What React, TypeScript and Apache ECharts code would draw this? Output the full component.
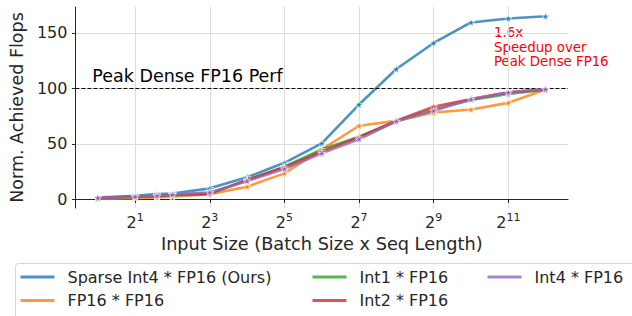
import React, { useEffect, useRef } from "react";
import * as echarts from "echarts";

const inputSizes = [1, 2, 3, 4, 8, 16, 32, 64, 128, 256, 512, 1024, 2048, 4096];
const sparseInt4 = [1.8, 3.3, 4.8, 5.4, 10, 20, 33, 50.5, 85.5, 117.5, 141, 159.5, 163, 165];
const fp16 = [0.5, 1.2, 1.8, 2.5, 4.8, 11.5, 23.5, 45, 66.4, 70.8, 78.3, 81, 87, 99];
const int1 = [1.2, 2.2, 3, 3.8, 4.8, 17.5, 29.5, 45, 56.5, 70.5, 81, 89.6, 95, 98.8];
const int2 = [1.4, 2.4, 3.2, 4.2, 5.5, 17.5, 29, 43, 56, 71, 83.5, 90.5, 96.5, 99.2];
const int4 = [1.5, 2.5, 3.3, 4.5, 6.5, 16.5, 27.5, 41.5, 54.2, 70.5, 80, 90.2, 96.5, 99.4];

const seriesNames = [
  "Sparse Int4 * FP16 (Ours)",
  "FP16 * FP16",
  "Int1 * FP16",
  "Int2 * FP16",
  "Int4 * FP16",
];
const seriesValues = [sparseInt4, fp16, int1, int2, int4];
const seriesColors = [
  "rgba(31,119,180,0.8)",
  "rgba(255,127,14,0.8)",
  "rgba(44,160,44,0.8)",
  "rgba(214,39,40,0.8)",
  "rgba(148,103,189,0.8)",
];

const xTickValues = [2, 8, 32, 128, 512, 2048];
const yTickValues = [0, 50, 100, 150];
const peakLevel = 100;

const STAR =
  "path://M50,0 L61.2,34.5 L97.6,34.5 L68.2,55.9 L79.4,90.5 L50,69.1 L20.6,90.5 L31.8,55.9 L2.4,34.5 L38.8,34.5 Z";

const FONT = "DejaVu Sans";
const TEXT = "#262626";

export default function App() {
  const ref = useRef<HTMLDivElement>(null);

  useEffect(() => {
    if (!ref.current) return;
    const chart = echarts.init(ref.current, null, { renderer: "svg" });

    const series: any[] = seriesNames.map((name, i) => ({
      name,
      type: "line",
      data: inputSizes.map((x, j) => [x, seriesValues[i][j]]),
      symbol: STAR,
      symbolSize: 8,
      showSymbol: true,
      lineStyle: { color: seriesColors[i], width: 2.6 },
      itemStyle: { color: seriesColors[i], borderColor: "#ffffff", borderWidth: 0.6 },
      z: 3 + i,
    }));
    series[0].markLine = {
      silent: true,
      symbol: "none",
      label: { show: false },
      lineStyle: { color: "#000000", type: [4, 2], width: 1 },
      data: [{ yAxis: peakLevel }],
    };

    const legendBase = {
      orient: "vertical",
      top: 269,
      padding: 0,
      icon: "rect",
      itemWidth: 34,
      itemHeight: 3,
      itemGap: 7.4,
      itemStyle: { borderWidth: 0 },
      textStyle: {
        fontFamily: FONT,
        fontSize: 16,
        color: TEXT,
        lineHeight: 16,
        padding: [0, 0, 0, 8],
      },
      selectedMode: false,
    };

    chart.setOption({
      animation: false,
      grid: { left: 69, right: 64, top: 7, bottom: 108, containLabel: false },
      xAxis: {
        type: "log",
        logBase: 2,
        min: Math.pow(2, -0.6),
        max: Math.pow(2, 12.6),
        name: "Input Size (Batch Size x Seq Length)",
        nameLocation: "middle",
        nameGap: 24,
        nameTextStyle: { fontFamily: FONT, fontSize: 17.7, color: TEXT },
        axisLine: { show: true, lineStyle: { color: TEXT, width: 1 } },
        axisTick: {
          show: true,
          length: 3.5,
          lineStyle: { color: TEXT, width: 1 },
          customValues: xTickValues,
        },
        axisLabel: {
          customValues: xTickValues,
          margin: 4,
          formatter: (v: number) => "{b|2}{s|" + Math.round(Math.log2(v)) + "}",
          rich: {
            b: { fontFamily: FONT, fontSize: 16, lineHeight: 20, color: TEXT },
            s: { fontFamily: FONT, fontSize: 11, lineHeight: 11, color: TEXT, verticalAlign: "top" },
          },
        },
        splitLine: { show: true, lineStyle: { color: "#dcdcdc", width: 1 } },
      },
      yAxis: {
        type: "value",
        min: -7.7,
        max: 173.4,
        name: "Norm. Achieved Flops",
        nameLocation: "middle",
        nameGap: 45,
        nameTextStyle: { fontFamily: FONT, fontSize: 17.5, color: TEXT },
        axisLine: { show: true, lineStyle: { color: TEXT, width: 1 } },
        axisTick: {
          show: true,
          length: 3.5,
          lineStyle: { color: TEXT, width: 1 },
          customValues: yTickValues,
        },
        axisLabel: {
          customValues: yTickValues,
          margin: 8,
          fontFamily: FONT,
          fontSize: 16,
          color: TEXT,
        },
        splitLine: { show: true, lineStyle: { color: "#dcdcdc", width: 1 } },
      },
      legend: [
        { ...legendBase, left: 20.5, data: [seriesNames[0], seriesNames[1]] },
        { ...legendBase, left: 312.5, data: [seriesNames[2], seriesNames[3]] },
        { ...legendBase, left: 487.5, data: [seriesNames[4]] },
      ],
      graphic: [
        {
          type: "rect",
          z: -1,
          shape: { x: 15.5, y: 263.5, width: 700, height: 60, r: 3 },
          style: { fill: "#ffffff", stroke: "#d4d4d4", lineWidth: 1 },
        },
        {
          type: "text",
          x: 92.3,
          y: 75.6,
          style: {
            text: "Peak Dense FP16 Perf",
            fontFamily: FONT,
            fontSize: 17.5,
            fill: "#000000",
            verticalAlign: "middle",
            align: "left",
          },
        },
        ...["1.6x", "Speedup over", "Peak Dense FP16"].map((t, i) => ({
          type: "text",
          x: 494,
          y: 32.8 + i * 14.5,
          style: {
            text: t,
            fontFamily: FONT,
            fontSize: 13.3,
            fill: "#ff0000",
            verticalAlign: "middle",
            align: "left",
          },
        })),
      ],
      series,
    });

    return () => chart.dispose();
  }, []);

  return (
    <div
      ref={ref}
      style={{ position: "fixed", left: 0, top: 0, width: 632, height: 316, background: "#ffffff" }}
    />
  );
}
